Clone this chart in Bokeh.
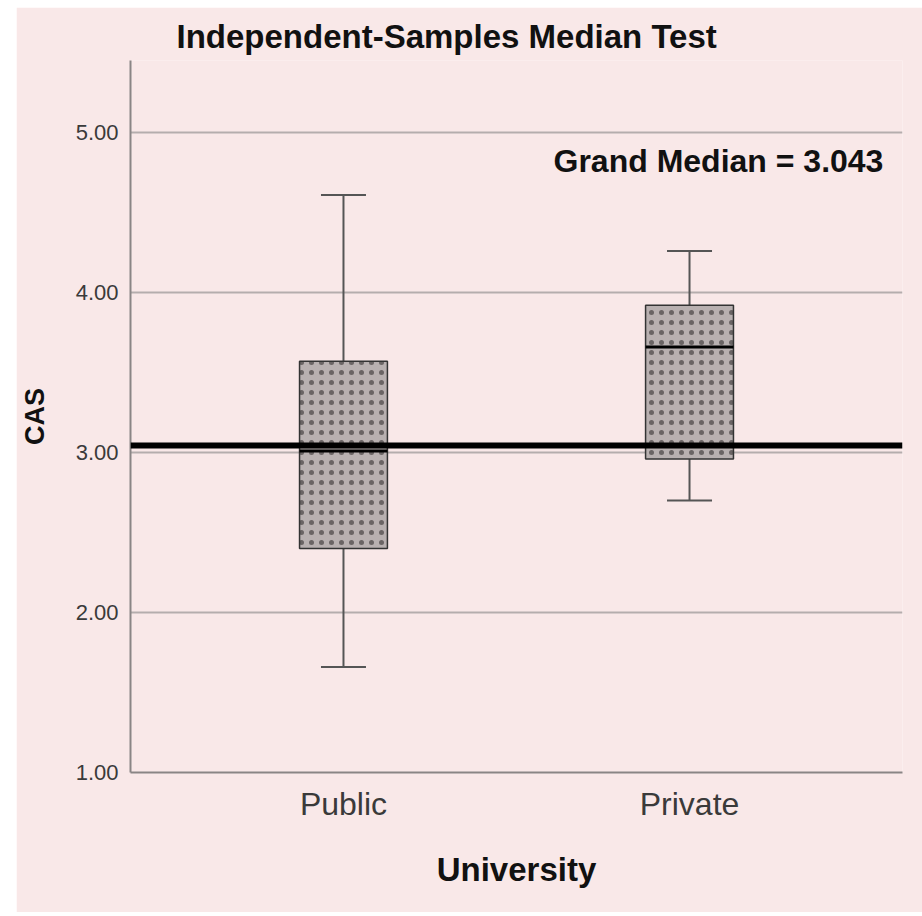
from bokeh.plotting import figure
from bokeh.models import (ColumnDataSource, FactorRange, Range1d, Span, Label,
                          FixedTicker, NumeralTickFormatter, Whisker, TeeHead)
from bokeh.embed import file_html
from bokeh.resources import INLINE

# ---- data ----
groups = ["Public", "Private"]
lower = [1.66, 2.70]
q1 = [2.40, 2.96]
median = [3.01, 3.66]
q3 = [3.57, 3.92]
upper = [4.61, 4.26]
grand_median = 3.043
y_ticks = [1, 2, 3, 4, 5]

title_text = "Independent-Samples Median Test"
x_title = "University"
y_title = "CAS"

PINK = "#f9e8e8"
FONT = "Liberation Sans"

src = ColumnDataSource(dict(group=groups, lower=lower, q1=q1, median=median,
                            q3=q3, upper=upper))

p = figure(x_range=FactorRange(factors=groups, range_padding=0.1155,
                               range_padding_units="absolute"),
           y_range=Range1d(1, 5.45),
           frame_width=772, frame_height=712,
           min_border_left=114, min_border_right=20,
           min_border_top=53, min_border_bottom=140,
           output_backend="svg", toolbar_location=None,
           styles={"margin-left": "16px", "margin-top": "7px"})

p.background_fill_color = PINK
p.border_fill_color = PINK
p.outline_line_color = None

# title
p.title.text = title_text
p.title.align = "left"
p.title.offset = 46
p.title.standoff = 12
p.title.text_font = FONT
p.title.text_font_size = "33px"
p.title.text_font_style = "bold"
p.title.text_color = "#111111"

# grid
p.xgrid.grid_line_color = None
p.ygrid.ticker = FixedTicker(ticks=y_ticks)
p.ygrid.grid_line_color = "#b5adad"
p.ygrid.grid_line_width = 2

# y axis
p.yaxis.ticker = FixedTicker(ticks=y_ticks)
p.yaxis.formatter = NumeralTickFormatter(format="0.00")
p.yaxis.major_tick_line_color = None
p.yaxis.minor_tick_line_color = None
p.yaxis.major_tick_out = 0
p.yaxis.major_label_standoff = 12
p.yaxis.axis_line_color = "#8a8585"
p.yaxis.axis_line_width = 2
p.yaxis.major_label_text_font = FONT
p.yaxis.major_label_text_font_size = "22px"
p.yaxis.major_label_text_color = "#3a3a3a"
p.yaxis.axis_label = y_title
p.yaxis.axis_label_text_font = FONT
p.yaxis.axis_label_text_font_size = "27px"
p.yaxis.axis_label_text_font_style = "bold"
p.yaxis.axis_label_text_color = "#111111"
p.yaxis.axis_label_standoff = 23

# x axis
p.xaxis.major_tick_line_color = None
p.xaxis.minor_tick_line_color = None
p.xaxis.major_tick_out = 0
p.xaxis.major_label_standoff = 13
p.xaxis.axis_line_color = "#8a8585"
p.xaxis.axis_line_width = 2
p.xaxis.major_label_text_font = FONT
p.xaxis.major_label_text_font_size = "32px"
p.xaxis.major_label_text_color = "#3a3a3a"
p.xaxis.axis_label = x_title
p.xaxis.axis_label_text_font = FONT
p.xaxis.axis_label_text_font_size = "33px"
p.xaxis.axis_label_text_font_style = "bold"
p.xaxis.axis_label_text_color = "#111111"
p.xaxis.axis_label_standoff = 26

# whiskers
top_wh = Whisker(source=src, base="group", lower="q3", upper="upper",
                 line_color="#555555", line_width=2,
                 upper_head=TeeHead(size=45, line_color="#555555", line_width=2),
                 lower_head=None)
bot_wh = Whisker(source=src, base="group", lower="lower", upper="q1",
                 line_color="#555555", line_width=2,
                 lower_head=TeeHead(size=45, line_color="#555555", line_width=2),
                 upper_head=None)
p.add_layout(top_wh)
p.add_layout(bot_wh)

# boxes
p.vbar(x="group", width=0.254, bottom="q1", top="q3", source=src,
       fill_color="#b8b0b0", line_color="#333333", line_width=1.5,
       hatch_pattern=".", hatch_color="#6a6464", hatch_scale=10, hatch_weight=1.5)

# medians
p.vbar(x="group", width=0.254, bottom="median", top="median", source=src,
       fill_color=None, line_color="black", line_width=3)

# grand median
p.add_layout(Span(location=grand_median, dimension="width",
                  line_color="black", line_width=6))

p.add_layout(Label(x=423, y=612, x_units="screen", y_units="screen",
                   text=f"Grand Median = {grand_median:.3f}",
                   text_font=FONT, text_font_size="32px", text_font_style="bold",
                   text_color="#111111", text_baseline="alphabetic"))

open("out.html", "w").write(file_html(p, INLINE))
